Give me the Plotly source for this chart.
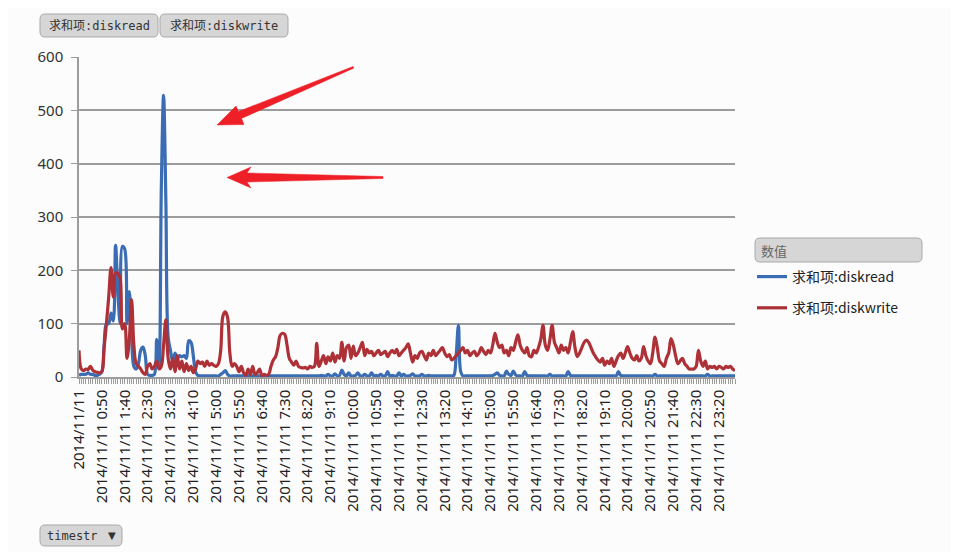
import plotly.graph_objects as go
import pandas as pd

# ---------------- data ----------------
# 5-minute samples for 2014/11/11, one row per hour (12 values)
diskread = [
    3, 5, 5, 5, 8, 5, 5, 3, 3, 5, 10, 60,
    100, 100, 120, 105, 247, 160, 100, 245, 240, 100, 160, 80,
    20, 15, 25, 50, 56, 40, 5, 3, 3, 5, 70, 20,
    350, 528, 330, 75, 50, 30, 45, 35, 40, 38, 40, 35,
    68, 65, 40, 10, 3, 2, 2, 2, 2, 2, 2, 2,
    2, 2, 5, 8, 12, 5, 2, 2, 2, 2, 2, 2,
    2, 2, 2, 2, 2, 2, 2, 2, 2, 2, 2, 2,
    2, 2, 2, 2, 2, 2, 2, 2, 2, 2, 2, 2,
    2, 2, 2, 2, 2, 2, 2, 2, 2, 2, 3, 2,
    2, 5, 2, 2, 6, 2, 3, 13, 5, 2, 8, 2,
    2, 3, 8, 2, 2, 5, 2, 2, 8, 2, 3, 2,
    5, 2, 2, 10, 2, 3, 2, 2, 8, 2, 5, 2,
    2, 3, 6, 2, 2, 2, 5, 2, 2, 3, 2, 2,
    2, 2, 2, 2, 2, 2, 2, 2, 3, 40, 97, 10,
    2, 2, 2, 2, 2, 2, 2, 2, 2, 2, 2, 2,
    2, 3, 5, 8, 3, 2, 2, 11, 5, 3, 11, 4,
    2, 2, 2, 10, 3, 2, 2, 2, 2, 2, 2, 2,
    2, 2, 5, 2, 2, 2, 2, 2, 2, 2, 10, 3,
    2, 2, 2, 2, 2, 2, 2, 2, 2, 2, 2, 2,
    2, 2, 2, 2, 2, 2, 2, 2, 10, 3, 2, 2,
    2, 2, 2, 2, 2, 2, 2, 2, 2, 2, 2, 2,
    5, 2, 2, 2, 2, 2, 2, 2, 2, 2, 2, 2,
    2, 2, 2, 2, 2, 2, 2, 2, 2, 2, 2, 5,
    2, 2, 2, 2, 2, 2, 2, 2, 2, 2, 2, 2,
]

diskwrite = [
    50, 15, 12, 15, 14, 20, 13, 10, 9, 8, 10, 55,
    100, 150, 205, 150, 195, 195, 185, 90, 100, 35, 70, 145,
    60, 25, 20, 15, 8, 5, 20, 25, 15, 20, 30, 15,
    20, 60, 107, 35, 15, 35, 10, 40, 15, 30, 10, 25,
    12, 20, 8, 15, 30, 25, 28, 20, 30, 22, 25, 22,
    20, 25, 50, 115, 122, 112, 45, 20, 25, 20, 10, 20,
    8, 3, 15, 5, 20, 5, 8, 15, 3, 5, 3, 5,
    20, 32, 38, 55, 78, 82, 80, 60, 35, 28, 22, 30,
    20, 18, 17, 18, 15, 20, 18, 20, 63, 20, 30, 40,
    25, 38, 30, 45, 28, 40, 35, 65, 30, 55, 60, 35,
    58, 40, 45, 55, 65, 40, 52, 45, 48, 40, 45, 50,
    42, 45, 48, 38, 45, 50, 45, 52, 40, 45, 50, 55,
    62, 45, 28, 40, 35, 45, 48, 40, 32, 45, 40, 50,
    40, 45, 50, 55, 45, 38, 42, 32, 35, 40, 45, 50,
    55, 45, 50, 40, 45, 48, 40, 45, 55, 48, 42, 50,
    45, 60, 82, 65, 55, 60, 45, 50, 40, 55, 50, 65,
    79, 60, 50, 45, 55, 40, 38, 50, 45, 55, 70, 97,
    60, 50, 70, 97, 65, 55, 45, 60, 50, 55, 45, 65,
    85, 55, 38, 45, 55, 65, 69, 65, 55, 45, 38, 32,
    28, 35, 22, 30, 25, 35, 20, 30, 40, 45, 35, 45,
    57, 45, 35, 32, 40, 30, 35, 57, 40, 30, 25, 45,
    75, 55, 30, 25, 20, 35, 45, 72, 60, 40, 25, 30,
    35, 25, 20, 15, 15, 15, 20, 50, 30, 20, 30, 15,
    20, 18, 20, 15, 20, 18, 15, 20, 18, 20, 15, 12,
]

times = pd.date_range("2014-11-11 00:00", periods=len(diskread), freq="5min")

tick_labels = [
    "2014/11/11", "2014/11/11 0:50", "2014/11/11 1:40", "2014/11/11 2:30",
    "2014/11/11 3:20", "2014/11/11 4:10", "2014/11/11 5:00", "2014/11/11 5:50",
    "2014/11/11 6:40", "2014/11/11 7:30", "2014/11/11 8:20", "2014/11/11 9:10",
    "2014/11/11 10:00", "2014/11/11 10:50", "2014/11/11 11:40", "2014/11/11 12:30",
    "2014/11/11 13:20", "2014/11/11 14:10", "2014/11/11 15:00", "2014/11/11 15:50",
    "2014/11/11 16:40", "2014/11/11 17:30", "2014/11/11 18:20", "2014/11/11 19:10",
    "2014/11/11 20:00", "2014/11/11 20:50", "2014/11/11 21:40", "2014/11/11 22:30",
    "2014/11/11 23:20",
]
tick_times = list(times[::10])

series_names = ["求和项:diskread", "求和项:diskwrite"]
series_colors = ["#3a6db3", "#ad3136"]

# ---------------- layout helpers (window pixel -> paper) ----------------
# the page body has an 8px margin, so the figure is drawn 8px smaller
PAGE_OFF = 8
FIG_W, FIG_H = 959 - 2 * PAGE_OFF, 560 - 2 * PAGE_OFF
L, R, T, B = 79, 735, 57, 377          # plot area in window pixels
W, H = R - L, B - T


def px(x):
    return (x - L) / W


def py(y):
    return (B - y) / H


def pt(x, y):
    return f"{px(x):.5f},{py(y):.5f}"


def rrect(x0, y0, x1, y1, r):
    return (f"M{pt(x0 + r, y0)} L{pt(x1 - r, y0)} Q{pt(x1, y0)} {pt(x1, y0 + r)} "
            f"L{pt(x1, y1 - r)} Q{pt(x1, y1)} {pt(x1 - r, y1)} "
            f"L{pt(x0 + r, y1)} Q{pt(x0, y1)} {pt(x0, y1 - r)} "
            f"L{pt(x0, y0 + r)} Q{pt(x0, y0)} {pt(x0 + r, y0)} Z")


def poly(points):
    return "M" + " L".join(pt(x, y) for x, y in points) + " Z"


fig = go.Figure()
for name, vals, col in zip(series_names, [diskread, diskwrite], series_colors):
    fig.add_trace(go.Scatter(
        x=times, y=vals, name=name, mode="lines", legendgroup=name,
        line=dict(color=col, width=3.2, shape="spline", smoothing=1.0),
    ))

shapes = []
btn_style = dict(type="path", xref="paper", yref="paper",
                 fillcolor="#d6d6d6", line=dict(color="#a9a9a9", width=1), layer="above")
shapes.append(dict(path=rrect(40, 14, 158, 37, 5), **btn_style))
shapes.append(dict(path=rrect(160, 14, 288, 37, 5), **btn_style))
shapes.append(dict(path=rrect(755, 238, 922, 262, 5), **btn_style))
shapes.append(dict(path=rrect(40, 525, 122, 546, 5), **btn_style))

arrow_col = "#ee1f27"
shapes.append(dict(type="path", xref="paper", yref="paper", fillcolor=arrow_col,
                   line=dict(color=arrow_col, width=0.5), layer="above",
                   path=poly([(217, 125), (244, 124.5), (241.5, 118.5), (354, 68),
                              (353, 66.5), (238.5, 111.5), (236, 106)])))
shapes.append(dict(type="path", xref="paper", yref="paper", fillcolor=arrow_col,
                   line=dict(color=arrow_col, width=0.5), layer="above",
                   path=poly([(227, 177.5), (251, 167), (247, 173), (383, 176.5),
                              (383, 178.5), (247, 182), (251, 188)])))

ann_font = dict(family="DejaVu Sans Mono, Noto Sans CJK SC", size=12, color="#333333")
annotations = [
    dict(text="求和项:diskread", x=px(99), y=py(25.5), xref="paper", yref="paper",
         showarrow=False, font=ann_font, xanchor="center", yanchor="middle"),
    dict(text="求和项:diskwrite", x=px(224), y=py(25.5), xref="paper", yref="paper",
         showarrow=False, font=ann_font, xanchor="center", yanchor="middle"),
    dict(text="数值", x=px(759), y=py(250), xref="paper", yref="paper",
         showarrow=False, font=dict(family="Noto Sans CJK SC", size=13, color="#666666"),
         xanchor="left", yanchor="middle"),
    dict(text="timestr", x=px(45), y=py(535.5), xref="paper", yref="paper",
         showarrow=False, font=ann_font, xanchor="left", yanchor="middle"),
    dict(text="▼", x=px(112), y=py(535.5), xref="paper", yref="paper",
         showarrow=False, font=dict(family="DejaVu Sans", size=10, color="#333333"),
         xanchor="center", yanchor="middle"),
]

grid_col = "#9c9c9c"
bg = "#fcfcfc"
fig.update_layout(
    width=FIG_W, height=FIG_H,
    margin=dict(l=L - PAGE_OFF, r=FIG_W - (R - PAGE_OFF), t=T - PAGE_OFF,
                b=FIG_H - (B - PAGE_OFF), autoexpand=False),
    paper_bgcolor=bg, plot_bgcolor=bg,
    showlegend=True,
    legend=dict(x=px(752), y=py(261), xanchor="left", yanchor="top",
                font=dict(family="Noto Sans CJK SC, Noto Sans", size=14, color="#222222"),
                bgcolor="rgba(0,0,0,0)", tracegroupgap=10),
    shapes=shapes,
    annotations=annotations,
    xaxis=dict(
        type="date", range=[times[0], times[-1]],
        tickmode="array", tickvals=tick_times, ticktext=tick_labels,
        tickangle=-90, ticks="outside", ticklen=5, tickcolor=grid_col,
        tickfont=dict(family="Noto Sans", size=15, color="#222222"),
        showline=True, linecolor=grid_col, linewidth=1.5,
        showgrid=False, zeroline=False, automargin=False,
        minor=dict(ticks="outside", ticklen=5, tickcolor=grid_col,
                   tick0=times[0], dtick=300000, showgrid=False),
    ),
    yaxis=dict(
        range=[0, 600], tickmode="linear", tick0=0, dtick=100,
        ticks="outside", ticklen=6, tickcolor=grid_col, ticklabelstandoff=5,
        tickfont=dict(family="Noto Sans", size=15, color="#333333"),
        showgrid=True, gridcolor=grid_col, gridwidth=1.5,
        showline=True, linecolor=grid_col, linewidth=1.5,
        zeroline=False, automargin=False,
    ),
)

fig.write_html("out.html")
